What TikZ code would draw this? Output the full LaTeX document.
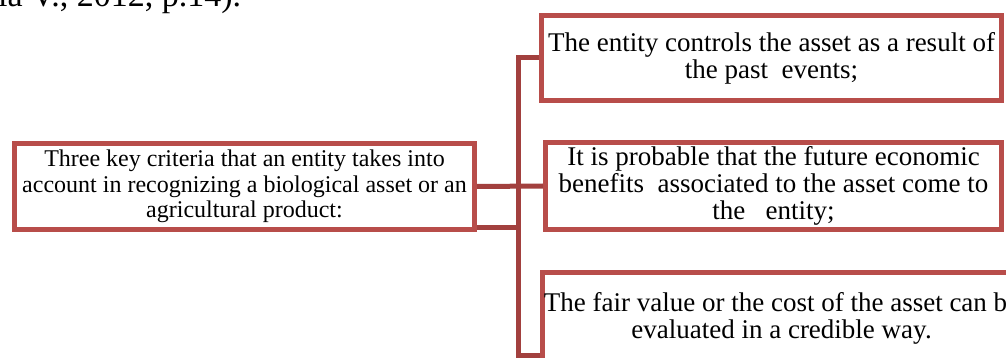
\documentclass[tikz,border=0pt]{standalone}
\usepackage{fontspec}
\setmainfont{Liberation Serif}
\usepackage{tikz}
\usetikzlibrary{calc}
\definecolor{boxred}{RGB}{184,77,74}
\definecolor{linkred}{RGB}{162,64,62}
\tikzset{
	criterion/.style={
		draw=boxred, line width=5pt, fill=white, align=center,
		anchor=north west, inner sep=2pt
	},
	leftbox/.style={criterion, font=\fontsize{24}{25.5}\selectfont},
	rightbox/.style={criterion, font=\fontsize{27}{27}\selectfont},
	link/.style={draw=linkred, line width=5pt}
}

\begin{document}
\begin{tikzpicture}[x=1pt, y=-1pt]
	\useasboundingbox (0,0) rectangle (1006,358);
	\clip (0,0) rectangle (1006,358);

	\node[anchor=base west, inner sep=0pt, font=\fontsize{34}{40}\selectfont] (Source) at (-2,7) {ia V., 2012, p.14).};

	\node[leftbox, minimum width=460pt, minimum height=86pt] (Criteria) at (12,141) {Three key criteria that an entity takes into\\account in recognizing a biological asset or an\\agricultural product:};

	\node[rightbox, minimum width=460pt, minimum height=85pt] (Control) at (539,13) {The entity controls the asset as a result of\\the past\ \ events;};
	\node[rightbox, minimum width=456pt, minimum height=87pt] (Benefits) at (543,140) {It is probable that the future economic\\benefits\ \ associated to the asset come to\\the\ \ \ entity;};
	\node[rightbox, inner sep=0pt] (FairValue) at (540,270) {\parbox[c][166pt][t]{478pt}{\centering\vspace*{20pt}The fair value or the cost of the asset can be\\evaluated in a credible way.}};

	\coordinate (Bus) at (518,186.5);
	\coordinate (Low) at ([yshift=4.5pt]Criteria.south east);
	\draw[link] (Control.west) -| (Bus) |- (FairValue.west);
	\draw[link] (Criteria.east) -- (Benefits.west);
	\draw[link] (Low) -- (Low -| Bus);
\end{tikzpicture}
\end{document}
